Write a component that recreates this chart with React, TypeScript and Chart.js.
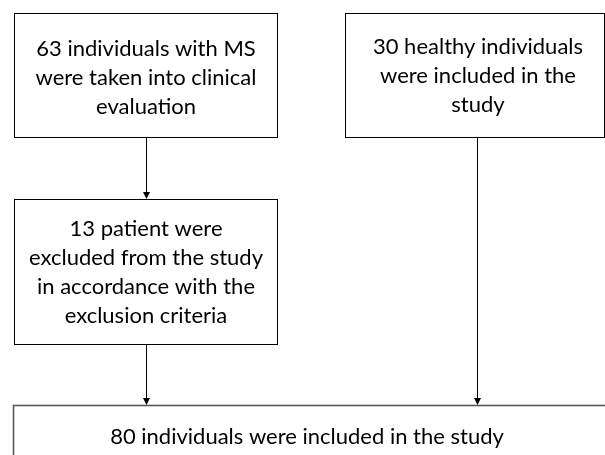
import React, { useEffect, useRef } from "react";
import { Chart, registerables } from "chart.js";

Chart.register(...registerables);

// Flowchart boxes (data units = scale units on hidden 0..605 x 0..455 axes)
const boxLabels: string[][] = [
  ["63 individuals with MS", "were taken into clinical", "evaluation"],
  ["30 healthy individuals", "were included in the", "study"],
  ["13 patient were", "excluded from the study", "in accordance with the", "exclusion criteria"],
  ["80 individuals were included in the study"],
];
const boxLeft = [14, 345, 14, 13];
const boxRight = [277, 604, 277, 640];
const boxTop = [13, 13, 199, 405];
const boxBottom = [137, 137, 344, 480];
const textCenterY = [78, 76, 272, 437];
const textCenterX = [146, 478, 146, 307];

// Arrows (vertical connectors)
const arrowX = [146, 146, 477];
const arrowFrom = [137, 344, 137];
const arrowTo = [199, 405, 405];

const LINE_H = 29;
const FONT = "22px Lato, 'Open Sans', sans-serif";
const BOX_STROKES = ["#000000", "#000000", "#000000", "#5a5a5a"];
const BOX_WIDTHS = [1, 1, 1, 1.6];

const flowPlugin = {
  id: "flow",
  afterDraw(chart: any) {
    const ctx = chart.ctx as CanvasRenderingContext2D;
    const xs = chart.scales.x;
    const ys = chart.scales.y;
    ctx.save();
    for (let i = 0; i < boxLabels.length; i++) {
      const x0 = xs.getPixelForValue(boxLeft[i]);
      const x1 = xs.getPixelForValue(boxRight[i]);
      const y0 = ys.getPixelForValue(boxTop[i]);
      const y1 = ys.getPixelForValue(boxBottom[i]);
      ctx.fillStyle = "#ffffff";
      ctx.fillRect(x0, y0, x1 - x0, y1 - y0);
      ctx.strokeStyle = BOX_STROKES[i];
      ctx.lineWidth = BOX_WIDTHS[i];
      ctx.strokeRect(Math.round(x0) + 0.5, Math.round(y0) + 0.5, Math.round(x1 - x0), Math.round(y1 - y0));
      ctx.fillStyle = "#000000";
      ctx.font = FONT;
      ctx.textAlign = "center";
      ctx.textBaseline = "middle";
      const lines = boxLabels[i];
      const cx = xs.getPixelForValue(textCenterX[i]);
      const cy = ys.getPixelForValue(textCenterY[i]);
      const startY = cy - ((lines.length - 1) * LINE_H) / 2;
      lines.forEach((ln, k) => ctx.fillText(ln, cx, startY + k * LINE_H));
    }
    for (let i = 0; i < arrowX.length; i++) {
      const x = Math.round(xs.getPixelForValue(arrowX[i])) + 0.5;
      const ya = ys.getPixelForValue(arrowFrom[i]);
      const yb = ys.getPixelForValue(arrowTo[i]);
      ctx.strokeStyle = "#000000";
      ctx.lineWidth = 1;
      ctx.beginPath();
      ctx.moveTo(x, ya);
      ctx.lineTo(x, yb - 6);
      ctx.stroke();
      ctx.fillStyle = "#000000";
      ctx.beginPath();
      ctx.moveTo(x - 3.5, yb - 7);
      ctx.lineTo(x + 3.5, yb - 7);
      ctx.lineTo(x, yb);
      ctx.closePath();
      ctx.fill();
    }
    ctx.restore();
  },
};

export default function App() {
  const ref = useRef<HTMLCanvasElement | null>(null);
  useEffect(() => {
    document.body.style.margin = "0";
    document.body.style.background = "#ffffff";
    const chart = new Chart(ref.current as HTMLCanvasElement, {
      type: "scatter",
      data: { datasets: [{ data: [], pointRadius: 0 }] },
      options: {
        animation: false,
        responsive: false,
        layout: { padding: 0 },
        plugins: { legend: { display: false }, tooltip: { enabled: false } },
        scales: {
          x: { type: "linear", min: 0, max: 605, display: false },
          y: { type: "linear", min: 0, max: 455, reverse: true, display: false },
        },
      },
      plugins: [flowPlugin],
    });
    return () => chart.destroy();
  }, []);
  return (
    <div style={{ width: 605, height: 455, background: "#fff" }}>
      <canvas ref={ref} width={605} height={455} style={{ display: "block" }} />
    </div>
  );
}
